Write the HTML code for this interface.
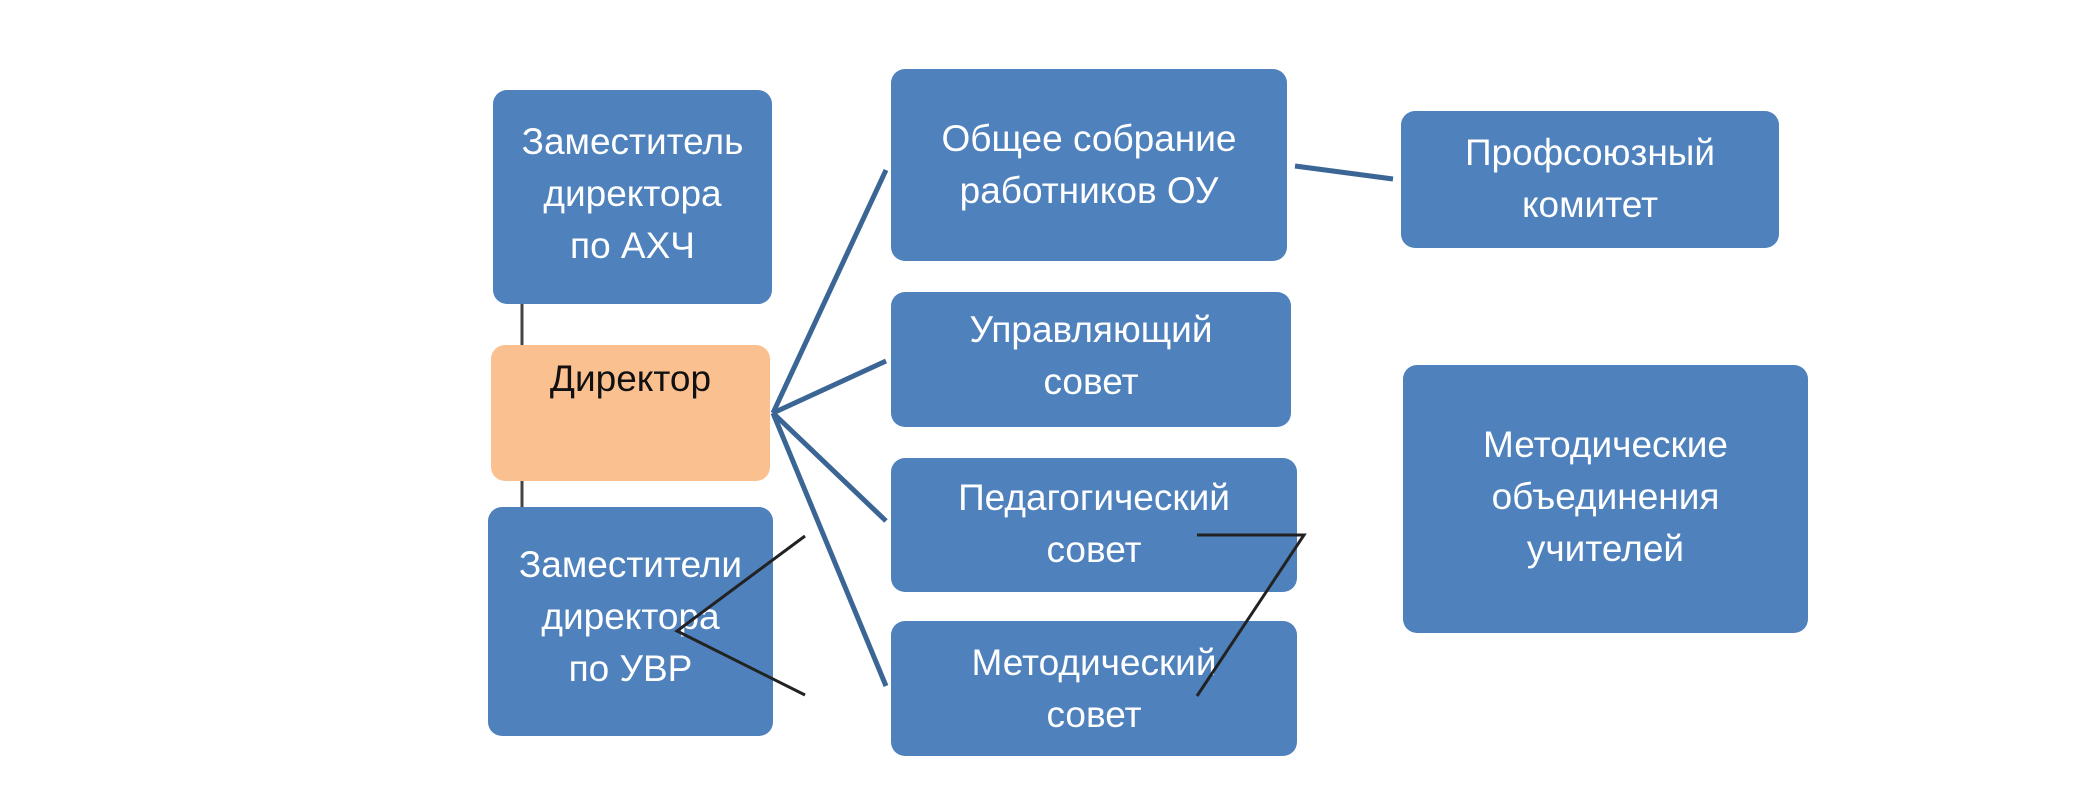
<!DOCTYPE html>
<html><head><meta charset="utf-8"><style>
body{margin:0;width:2080px;height:800px;background:#fff;overflow:hidden;position:relative;font-family:"Liberation Sans","DejaVu Sans",sans-serif}
.b{position:absolute;background:#4f81bd;border-radius:14px;color:#fff;font-size:37px;line-height:52px;text-align:center;box-sizing:border-box}
svg{position:absolute;left:0;top:0}
</style></head><body>
<svg width="2080" height="800">
<g stroke="#3a6594" stroke-width="5" fill="none">
<line x1="773" y1="413" x2="886" y2="170"/>
<line x1="773" y1="413" x2="886" y2="361"/>
<line x1="773" y1="413" x2="886" y2="521"/>
<line x1="773" y1="413" x2="886" y2="686"/>
<line x1="1295" y1="166" x2="1393" y2="179"/>
</g>
<g stroke="#444" stroke-width="3"><line x1="522" y1="304" x2="522" y2="345"/><line x1="522" y1="480" x2="522" y2="507"/></g>
</svg>
<div class="b" style="left:493px;top:90px;width:279px;height:214px;padding-top:26px">Заместитель<br>директора<br>по АХЧ</div>
<div class="b" style="left:491px;top:345px;width:279px;height:136px;background:#fac090;color:#111;padding-top:8px">Директор</div>
<div class="b" style="left:488px;top:507px;width:285px;height:229px;padding-top:32px">Заместители<br>директора<br>по УВР</div>
<div class="b" style="left:891px;top:69px;width:396px;height:192px;padding-top:44px">Общее собрание<br>работников ОУ</div>
<div class="b" style="left:891px;top:292px;width:400px;height:135px;padding-top:12px">Управляющий<br>совет</div>
<div class="b" style="left:891px;top:458px;width:406px;height:134px;padding-top:14px">Педагогический<br>совет</div>
<div class="b" style="left:891px;top:621px;width:406px;height:135px;padding-top:16px">Методический<br>совет</div>
<div class="b" style="left:1401px;top:111px;width:378px;height:137px;padding-top:16px">Профсоюзный<br>комитет</div>
<div class="b" style="left:1403px;top:365px;width:405px;height:268px;padding-top:54px">Методические<br>объединения<br>учителей</div>
<svg width="2080" height="800">
<g stroke="#222" stroke-width="3" fill="none">
<polyline points="1197,535 1304,535 1197,696"/>
<polyline points="805,536 677,631 805,695"/>
</g>
</svg>
</body></html>
